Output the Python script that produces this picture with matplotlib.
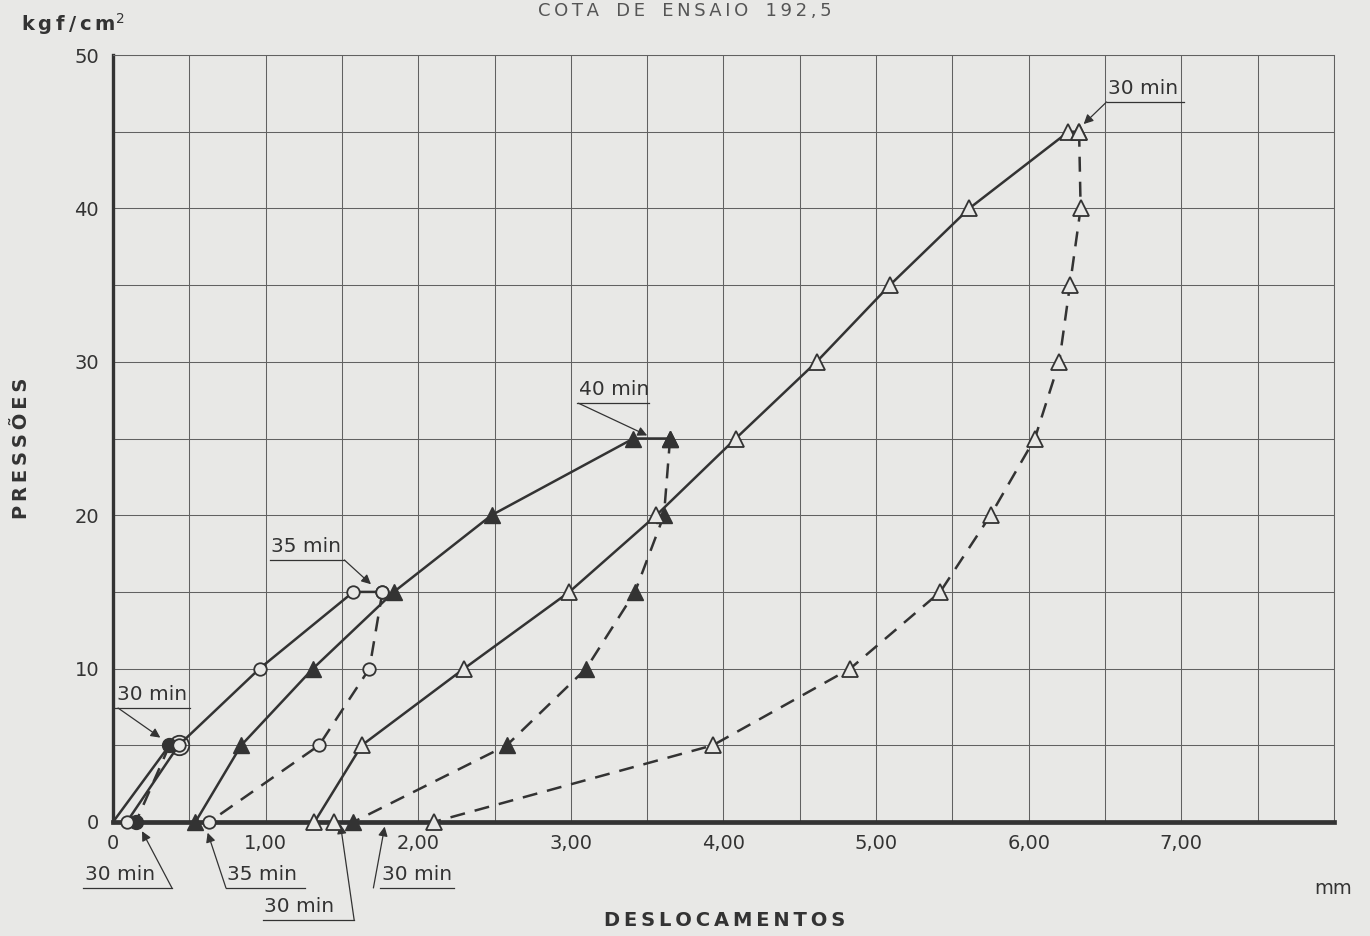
import matplotlib
matplotlib.use("Agg")
import matplotlib.pyplot as plt
from matplotlib.ticker import MultipleLocator
import numpy as np

# deslocamentos (mm) e pressoes (kgf/cm2) de cada ciclo
c1_carga_x = [0.00, 0.37]
c1_carga_y = [0, 5]
c1_desc_x = [0.37, 0.15]
c1_desc_y = [5, 0]

c2_carga_x = [0.09, 0.43, 0.96, 1.575, 1.765]
c2_carga_y = [0, 5, 10, 15, 15]
c2_desc_x = [1.765, 1.68, 1.35, 0.63]
c2_desc_y = [15, 10, 5, 0]

c3_carga_x = [0.54, 0.84, 1.31, 1.84, 2.48, 3.41, 3.65]
c3_carga_y = [0, 5, 10, 15, 20, 25, 25]
c3_desc_x = [3.65, 3.61, 3.42, 3.10, 2.58, 1.575]
c3_desc_y = [25, 20, 15, 10, 5, 0]

c4_carga_x = [1.32, 1.63, 2.30, 2.99, 3.56, 4.08, 4.61, 5.09, 5.61, 6.26, 6.33]
c4_carga_y = [0, 5, 10, 15, 20, 25, 30, 35, 40, 45, 45]
c4_desc_x = [6.33, 6.34, 6.27, 6.20, 6.04, 5.75, 5.42, 4.83, 3.93, 2.10]
c4_desc_y = [45, 40, 35, 30, 25, 20, 15, 10, 5, 0]
c4_extra_x = [1.45]
c4_extra_y = [0]

x_ticks = [0, 1, 2, 3, 4, 5, 6, 7]
x_labels = ["0", "1,00", "2,00", "3,00", "4,00", "5,00", "6,00", "7,00"]
y_ticks = [0, 10, 20, 30, 40, 50]

papel = "#e8e8e6"
tinta = "#333333"
grelha = "#616161"
sp = "\u2009"

fig = plt.figure(figsize=(13.7, 9.36), dpi=100, facecolor=papel)
ax = fig.add_axes([0.0825, 0.1218, 0.8912, 0.8194], facecolor=papel)

ax.set_xlim(0, 8)
ax.set_ylim(0, 50)
ax.xaxis.set_major_locator(MultipleLocator(1))
ax.xaxis.set_minor_locator(MultipleLocator(0.5))
ax.yaxis.set_major_locator(MultipleLocator(10))
ax.yaxis.set_minor_locator(MultipleLocator(5))
ax.set_xticks(x_ticks)
ax.set_xticklabels(x_labels)
ax.set_yticks(y_ticks)
ax.grid(True, which="both", color=grelha, lw=0.75)
ax.set_axisbelow(True)
ax.tick_params(which="both", length=0, labelsize=14, colors=tinta)
ax.tick_params(axis="x", pad=9)
ax.tick_params(axis="y", pad=10)

ax.spines["left"].set_linewidth(2.4)
ax.spines["bottom"].set_linewidth(3.4)
ax.spines["top"].set_linewidth(0.75)
ax.spines["right"].set_linewidth(0.75)
for s in ax.spines.values():
    s.set_color(tinta)
ax.spines["top"].set_color(grelha)
ax.spines["right"].set_color(grelha)

lw = 1.8
tr = dict(dashes=(6, 4))

# ciclo 1 - circulos cheios
ax.plot(c1_carga_x, c1_carga_y, color=tinta, lw=lw, clip_on=False)
ax.plot(c1_desc_x, c1_desc_y, color=tinta, lw=lw, clip_on=False, **tr)
ax.plot(c1_desc_x, c1_desc_y, ls="none", marker="o", ms=10, color=tinta, clip_on=False, zorder=5)

# ciclo 2 - circulos vazios
ax.plot(c2_carga_x, c2_carga_y, color=tinta, lw=lw, clip_on=False)
ax.plot(c2_desc_x, c2_desc_y, color=tinta, lw=lw, clip_on=False, **tr)
ax.plot(c2_carga_x + c2_desc_x, c2_carga_y + c2_desc_y, ls="none", marker="o", ms=9,
        mfc=papel, mec=tinta, mew=1.3, clip_on=False, zorder=5)
ax.plot(c2_carga_x[1:2], c2_carga_y[1:2], ls="none", marker="o", ms=14,
        mfc="none", mec=tinta, mew=1.3, clip_on=False, zorder=6)

# ciclo 3 - triangulos cheios
ax.plot(c3_carga_x, c3_carga_y, color=tinta, lw=lw, clip_on=False)
ax.plot(c3_desc_x, c3_desc_y, color=tinta, lw=lw, clip_on=False, **tr)
ax.plot(c3_carga_x + c3_desc_x, c3_carga_y + c3_desc_y, ls="none", marker="^", ms=11,
        color=tinta, clip_on=False, zorder=5)

# ciclo 4 - triangulos vazios
ax.plot(c4_carga_x, c4_carga_y, color=tinta, lw=lw, clip_on=False)
ax.plot(c4_desc_x, c4_desc_y, color=tinta, lw=lw, clip_on=False, **tr)
ax.plot(c4_carga_x + c4_desc_x + c4_extra_x, c4_carga_y + c4_desc_y + c4_extra_y,
        ls="none", marker="^", ms=11, mfc=papel, mec=tinta, mew=1.3, clip_on=False, zorder=5)


def nota(texto, x0, x1, yl, inicio, ponta):
    # texto sublinhado com linha de chamada e seta
    ax.plot([x0, x1], [yl, yl], color=tinta, lw=0.9, clip_on=False)
    ax.text(x0 + 0.01, yl + 0.25, texto, fontsize=14.5, color=tinta, ha="left", va="bottom",
            clip_on=False)
    ax.annotate("", xy=ponta, xytext=inicio, annotation_clip=False,
                arrowprops=dict(arrowstyle="-|>", color=tinta, lw=0.9,
                                mutation_scale=14, shrinkA=0, shrinkB=0))


nota("30 min", 0.013, 0.503, 7.43, (0.033, 7.43), (0.31, 5.5))
nota("35 min", 1.026, 1.516, 17.08, (1.516, 17.08), (1.69, 15.5))
nota("40 min", 3.04, 3.51, 27.3, (3.05, 27.3), (3.50, 25.2))
nota("30 min", 6.51, 7.02, 46.94, (6.51, 46.94), (6.36, 45.5))
nota("30 min", -0.196, 0.386, -4.3, (0.386, -4.3), (0.19, -0.6))
nota("35 min", 0.74, 1.255, -4.3, (0.74, -4.3), (0.62, -0.7))
nota("30 min", 0.98, 1.58, -6.39, (1.58, -6.39), (1.49, -0.15))
nota("30 min", 1.75, 2.235, -4.3, (1.706, -4.3), (1.78, -0.3))

fig.text(0.5, 0.988, sp.join("COTA") + "   " + sp.join("DE") + "   " + sp.join("ENSAIO")
         + "   " + sp.join("192,5"), ha="center", va="center", fontsize=13, color="#555555")
fig.text(0.015, 0.974, sp.join("kgf/cm") + "$^2$", ha="left", va="center", fontsize=14,
         color=tinta, fontweight="bold")
fig.text(0.529, 0.017, sp.join("DESLOCAMENTOS"), ha="center", va="center", fontsize=14,
         color=tinta, fontweight="bold")
fig.text(0.016, 0.521, sp.join("PRESSÕES"), ha="center", va="center", fontsize=14,
         color=tinta, rotation=90, fontweight="bold")
fig.text(0.973, 0.051, "mm", ha="center", va="center", fontsize=14, color=tinta)

fig.savefig("out.png", dpi=100, facecolor=papel)
